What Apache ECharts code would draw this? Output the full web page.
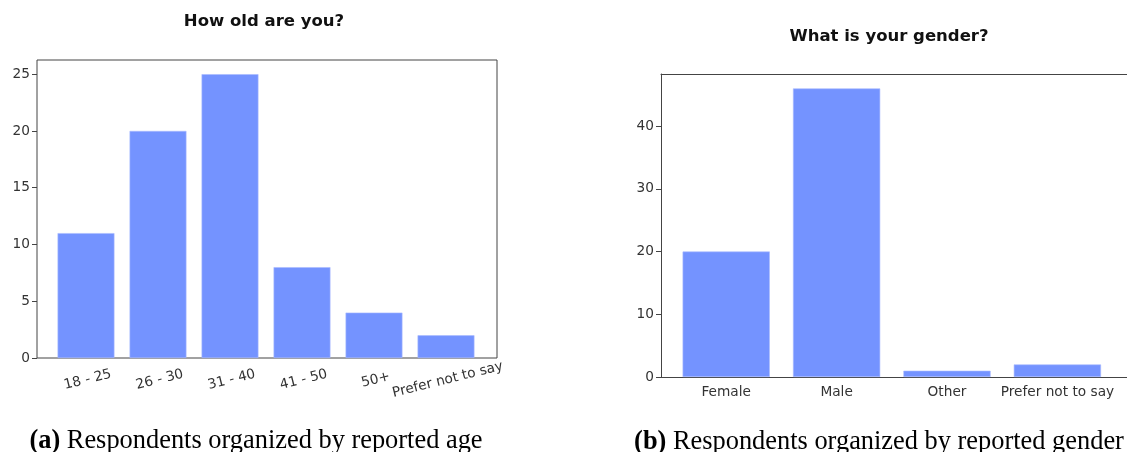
<!DOCTYPE html>
<html>
<head>
<meta charset="utf-8">
<script src="https://cdn.jsdelivr.net/npm/echarts@6/dist/echarts.min.js"></script>
<style>
html,body{margin:0;padding:0;background:#fff;}
#c{width:1127px;height:452px;}
</style>
</head>
<body>
<div id="c"></div>
<script>
const ageCategories = ['18 - 25', '26 - 30', '31 - 40', '41 - 50', '50+', 'Prefer not to say'];
const ageCounts = [11, 20, 25, 8, 4, 2];
const genderCategories = ['Female', 'Male', 'Other', 'Prefer not to say'];
const genderCounts = [20, 46, 1, 2];
const ageTicks = [0, 5, 10, 15, 20, 25];
const genderTicks = [0, 10, 20, 30, 40];
const titles = ['How old are you?', 'What is your gender?'];
const captions = [['(a)', 'Respondents organized by reported age'], ['(b)', 'Respondents organized by reported gender']];

const ageMax = Math.max(...ageCounts) * 1.05;
const genderMax = Math.max(...genderCounts) * 1.05;
const barColor = '#7493ff';
const spine = '#444';
const tickFont = {fontFamily: 'DejaVu Sans', fontSize: 13.7, color: '#333'};
const captionStyle = {fontFamily: 'Liberation Serif', fontSize: 26.4, fontWeight: 'normal', color: '#000',
  rich: {b: {fontFamily: 'Liberation Serif', fontSize: 26.4, fontWeight: 'bold', color: '#000'}}};

const chart = echarts.init(document.getElementById('c'), null, {renderer: 'canvas'});
chart.setOption({
  animation: false,
  backgroundColor: '#fff',
  title: [
    {text: titles[0], left: 259, top: 8, textAlign: 'center',
     textStyle: {fontFamily: 'DejaVu Sans', fontWeight: 'bold', fontSize: 16.5, color: '#111'}},
    {text: titles[1], left: 884, top: 23, textAlign: 'center',
     textStyle: {fontFamily: 'DejaVu Sans', fontWeight: 'bold', fontSize: 16.5, color: '#111'}},
    {text: '{b|' + captions[0][0] + '} ' + captions[0][1], left: 251, top: 423, textAlign: 'center',
     textStyle: captionStyle},
    {text: '{b|' + captions[1][0] + '} ' + captions[1][1], left: 874, top: 424, textAlign: 'center',
     textStyle: captionStyle}
  ],
  grid: [
    {left: 37, right: 630, top: 60, bottom: 94, show: true, borderColor: spine, borderWidth: 1, backgroundColor: 'transparent'},
    {left: 50, right: 645, top: 60, bottom: 94},
    {left: 661, right: 0, top: 74, bottom: 75},
    {left: 671, right: 14.4, top: 74, bottom: 75}
  ],
  xAxis: [
    {gridIndex: 0, type: 'value', min: 0, max: 1, show: false},
    {gridIndex: 1, type: 'category', data: ageCategories,
     axisLine: {show: false}, axisTick: {alignWithLabel: true, length: 5, lineStyle: {color: spine}},
     axisLabel: Object.assign({rotate: 14, align: 'center', verticalAlign: 'top', margin: 15, interval: 0}, tickFont)},
    {gridIndex: 2, type: 'value', min: 0, max: 1, position: 'bottom',
     axisLine: {show: true, onZero: false, lineStyle: {color: spine}}, axisTick: {show: false}, axisLabel: {show: false}, splitLine: {show: false}},
    {gridIndex: 2, type: 'value', min: 0, max: 1, position: 'top',
     axisLine: {show: true, onZero: false, lineStyle: {color: spine}}, axisTick: {show: false}, axisLabel: {show: false}, splitLine: {show: false}},
    {gridIndex: 3, type: 'category', data: genderCategories,
     axisLine: {show: false}, axisTick: {alignWithLabel: true, length: 5, lineStyle: {color: spine}},
     axisLabel: Object.assign({margin: 8, interval: 0}, tickFont)}
  ],
  yAxis: [
    {gridIndex: 0, type: 'value', min: 0, max: ageMax, interval: 5,
     axisLine: {show: false}, axisTick: {show: true, length: 5, lineStyle: {color: spine}},
     axisLabel: Object.assign({margin: 7, showMaxLabel: false}, tickFont), splitLine: {show: false}},
    {gridIndex: 1, type: 'value', min: 0, max: ageMax, show: false},
    {gridIndex: 2, type: 'value', min: 0, max: genderMax, interval: 10,
     axisLine: {show: true, onZero: false, lineStyle: {color: spine}}, axisTick: {show: true, length: 5, lineStyle: {color: spine}},
     axisLabel: Object.assign({margin: 7, showMaxLabel: false}, tickFont), splitLine: {show: false}},
    {gridIndex: 3, type: 'value', min: 0, max: genderMax, show: false}
  ],
  series: [
    {type: 'bar', xAxisIndex: 1, yAxisIndex: 1, data: ageCounts, barWidth: '79%',
     itemStyle: {color: barColor, borderColor: '#a9bbff', borderWidth: 0.6}},
    {type: 'bar', xAxisIndex: 4, yAxisIndex: 3, data: genderCounts, barWidth: '79%',
     itemStyle: {color: barColor, borderColor: '#a9bbff', borderWidth: 0.6}}
  ]
});
</script>
</body>
</html>
